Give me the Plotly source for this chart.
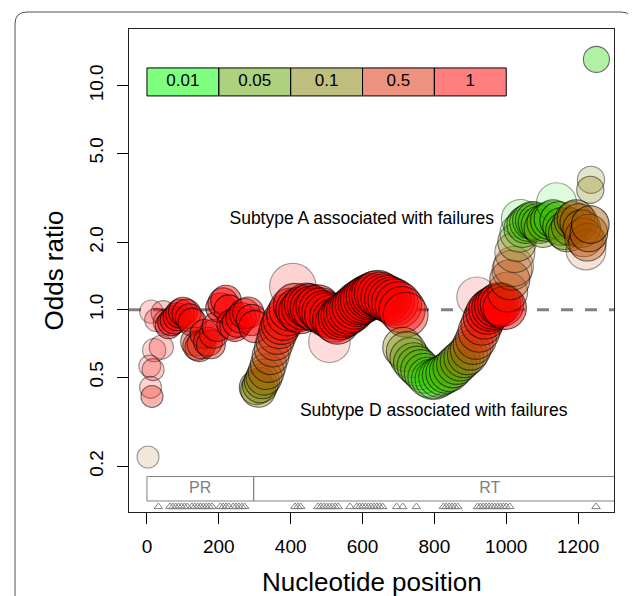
import math
import plotly.graph_objects as go

# ---------------- data ----------------
positions = [3, 8, 10, 14, 17, 20, 12, 26, 40, 45, 52,
             60, 68, 76, 84, 92, 100, 110, 118, 126, 134, 140, 146, 152, 160, 170, 178, 186, 195,
             205, 212, 220, 228, 236, 244, 252, 262, 272, 282, 292, 300,
             305, 310, 315, 320, 326, 332, 338, 344, 350, 356, 362, 368, 374, 380,
             392, 400, 406, 412, 420, 428, 436, 444, 452, 460, 468, 476, 484, 492, 500, 508,
             514, 522, 530, 538, 546, 554, 562, 570, 578, 586, 594, 602, 610, 618, 626, 634,
             642, 650, 660, 670, 680, 690, 700, 710, 720,
             712, 722, 732, 742, 752, 762, 772, 782, 792, 802, 812, 822, 832, 842, 852, 862,
             872, 882, 892, 900, 908, 916, 918, 924, 932, 940, 948, 956, 964, 972, 980, 988, 996,
             1004, 1010, 1016, 1020, 1024, 1030, 1036, 1040, 1046, 1054, 1062, 1070, 1078, 1086,
             1094, 1102, 1110, 1120, 1130, 1140, 1146, 1154, 1162, 1170, 1178, 1186, 1194, 1202,
             1210, 1216, 1222, 1226, 1230, 1234, 1236, 1234, 1251]

odds_ratios = [0.22, 0.56, 0.45, 0.41, 0.54, 0.66, 0.98, 0.90, 0.68, 0.97, 0.88,
               0.85, 0.88, 0.90, 0.93, 0.96, 0.98, 0.96, 0.92, 0.88, 0.72, 0.69, 0.68, 0.70, 0.78, 0.72, 0.70, 0.78, 0.84,
               1.02, 1.07, 1.10, 1.00, 0.86, 0.84, 0.88, 0.92, 0.96, 0.97, 0.90, 0.84,
               0.45, 0.44, 0.46, 0.48, 0.50, 0.53, 0.57, 0.62, 0.67, 0.72, 0.77, 0.82, 0.86, 0.90,
               0.95, 1.00, 1.27, 1.05, 1.00, 0.98, 1.02, 1.05, 1.04, 1.02, 1.00, 1.03, 1.00, 0.97, 0.95, 0.72,
               0.93, 0.90, 0.88, 0.92, 0.94, 0.96, 0.98, 1.00, 1.03, 1.06, 1.08, 1.10, 1.12, 1.14, 1.15, 1.17,
               1.18, 1.16, 1.14, 1.12, 1.10, 1.08, 1.05, 1.00, 0.95,
               0.68, 0.65, 0.61, 0.58, 0.56, 0.54, 0.52, 0.50, 0.49, 0.49, 0.50, 0.51, 0.52, 0.53, 0.55, 0.57,
               0.59, 0.61, 0.63, 0.66, 0.70, 0.74, 1.14, 0.80, 0.86, 0.92, 0.97, 1.00, 1.02, 1.04, 1.06, 1.05, 1.02,
               1.20, 1.36, 1.50, 1.56, 1.80, 2.00, 2.20, 2.55, 2.30, 2.40, 2.45, 2.50, 2.50, 2.45,
               2.40, 2.30, 2.45, 2.50, 2.55, 3.00, 2.50, 2.35, 2.25, 2.20, 2.35, 2.50, 2.55, 2.45,
               2.30, 2.10, 1.85, 2.00, 2.20, 2.40, 3.80, 3.43, 13.1]

p_values = [0.24, 0.9, 0.9, 0.66, 0.9, 0.9, 1.0, 1.0, 0.9, 1.0, 0.95,
            1.0, 1.0, 1.0, 1.0, 1.0, 1.0, 1.0, 1.0, 0.9, 0.6, 0.6, 0.6, 0.6, 0.9, 0.7, 0.7, 0.9, 1.0,
            1.0, 1.0, 1.0, 1.0, 1.0, 1.0, 1.0, 1.0, 1.0, 1.0, 1.0, 1.0,
            0.1, 0.1, 0.1, 0.12, 0.15, 0.2, 0.25, 0.3, 0.4, 0.5, 0.6, 0.7, 0.8, 0.9,
            1.0, 1.0, 0.9, 1.0, 1.0, 1.0, 1.0, 1.0, 1.0, 1.0, 1.0, 1.0, 1.0, 1.0, 1.0, 0.8,
            1.0, 1.0, 1.0, 1.0, 1.0, 1.0, 1.0, 1.0, 1.0, 1.0, 1.0, 1.0, 1.0, 1.0, 1.0, 1.0,
            1.0, 1.0, 1.0, 1.0, 1.0, 1.0, 1.0, 1.0, 0.9,
            0.1, 0.08, 0.06, 0.05, 0.04, 0.035, 0.03, 0.025, 0.02, 0.02, 0.025, 0.03, 0.035, 0.04, 0.05, 0.06,
            0.08, 0.1, 0.13, 0.18, 0.25, 0.35, 0.9, 0.5, 0.7, 0.9, 1.0, 1.0, 1.0, 1.0, 1.0, 1.0, 1.0,
            0.35, 0.3, 0.3, 0.25, 0.2, 0.1, 0.03, 0.015, 0.04, 0.03, 0.03, 0.03, 0.035, 0.04,
            0.04, 0.07, 0.035, 0.03, 0.03, 0.015, 0.035, 0.04, 0.05, 0.07, 0.1, 0.15, 0.2, 0.2,
            0.22, 0.3, 0.4, 0.25, 0.2, 0.2, 0.1, 0.1, 0.02]

n_seqs = [55, 55, 55, 55, 55, 58, 58, 58, 60, 60, 62,
          66, 68, 70, 70, 72, 72, 72, 70, 70, 72, 72, 72, 72, 72, 72, 72, 72, 74,
          74, 76, 76, 74, 74, 74, 76, 76, 76, 78, 78, 80,
          86, 88, 88, 88, 90, 90, 90, 92, 92, 94, 96, 98, 100, 102,
          106, 108, 116, 108, 110, 110, 110, 110, 110, 110, 110, 110, 110, 110, 110, 104,
          110, 110, 110, 110, 110, 112, 112, 112, 112, 112, 112, 114, 114, 114, 114, 116,
          116, 116, 116, 116, 116, 116, 116, 116, 112,
          100, 100, 100, 100, 100, 100, 100, 100, 100, 100, 100, 100, 100, 100, 100, 100,
          100, 100, 100, 100, 100, 102, 100, 104, 104, 106, 108, 108, 108, 108, 108, 108, 108,
          100, 100, 100, 100, 100, 96, 96, 96, 94, 94, 94, 94, 94, 94,
          94, 94, 94, 94, 94, 100, 94, 94, 94, 94, 94, 94, 94, 94,
          94, 96, 100, 94, 94, 94, 68, 68, 65]

weights = [0.2, 0.25, 0.25, 0.45, 0.3, 0.25, 0.25, 0.3, 0.3, 0.3, 0.35,
           0.65, 0.65, 0.65, 0.65, 0.65, 0.65, 0.65, 0.65, 0.65, 0.5, 0.5, 0.5, 0.5, 0.6, 0.6, 0.6, 0.6, 0.65,
           0.65, 0.65, 0.65, 0.65, 0.65, 0.65, 0.6, 0.6, 0.6, 0.6, 0.6, 0.6,
           0.55, 0.55, 0.55, 0.5, 0.5, 0.5, 0.5, 0.5, 0.5, 0.5, 0.5, 0.5, 0.55, 0.6,
           0.6, 0.6, 0.25, 0.65, 0.65, 0.65, 0.65, 0.65, 0.65, 0.65, 0.65, 0.65, 0.65, 0.65, 0.65, 0.2,
           0.65, 0.65, 0.65, 0.65, 0.65, 0.65, 0.65, 0.65, 0.65, 0.65, 0.65, 0.65, 0.65, 0.65, 0.65, 0.65,
           0.6, 0.6, 0.6, 0.6, 0.6, 0.6, 0.6, 0.6, 0.55,
           0.5, 0.5, 0.5, 0.5, 0.5, 0.5, 0.45, 0.35, 0.35, 0.35, 0.4, 0.5, 0.5, 0.5, 0.5, 0.5,
           0.5, 0.5, 0.5, 0.5, 0.5, 0.5, 0.2, 0.55, 0.6, 0.65, 0.7, 0.7, 0.7, 0.7, 0.7, 0.7, 0.7,
           0.35, 0.5, 0.3, 0.3, 0.3, 0.4, 0.3, 0.25, 0.45, 0.5, 0.5, 0.5, 0.5, 0.55,
           0.55, 0.5, 0.55, 0.6, 0.6, 0.2, 0.65, 0.65, 0.6, 0.55, 0.55, 0.55, 0.6, 0.6,
           0.6, 0.4, 0.2, 0.55, 0.6, 0.65, 0.3, 0.4, 0.5]

legend_p = [0.01, 0.05, 0.1, 0.5, 1]
legend_labels = ["0.01", "0.05", "0.1", "0.5", "1"]

mutation_positions = [32, 64, 72, 80, 88, 96, 104, 112, 125, 133, 141, 149, 157, 165, 173, 181,
                      204, 212, 220, 228, 240, 248, 256, 264, 272, 412, 420, 428,
                      476, 484, 492, 500, 508, 516, 524, 532, 565, 584, 592, 600, 608, 616,
                      624, 632, 640, 648, 656, 695, 712, 750, 825, 833, 841, 849, 857, 865,
                      920, 928, 936, 944, 952, 960, 968, 976, 984, 992, 1000, 1010, 1250]

regions = ["PR", "RT"]
region_start = [0, 297]
region_end = [297, 1400]

x_ticks = [0, 200, 400, 600, 800, 1000, 1200]
y_ticks = [0.2, 0.5, 1.0, 2.0, 5.0, 10.0]
y_tick_text = ["0.2", "0.5", "1.0", "2.0", "5.0", "10.0"]

FONT = "Liberation Sans, Arial, Helvetica, sans-serif"


def t_of(p):
    return min(1.0, max(0.0, (math.log10(p) + 2) / 2))


def pcol(p, a):
    t = t_of(p)
    return f"rgba({round(255 * t)},{round(255 * (1 - t))},0,{a})"


fig = go.Figure()

# dashed reference line at OR = 1
fig.add_trace(go.Scatter(x=[-50, 1300], y=[1, 1], mode="lines",
                         line=dict(color="#808080", width=3, dash="12px,12px"),
                         hoverinfo="skip", showlegend=False))

# bubbles
fill_cols = [pcol(p, a) for p, a in zip(p_values, weights)]
line_cols = [f"rgba(0,0,0,{min(1.0, 0.35 + 0.9 * a):.2f})" for a in weights]
fig.add_trace(go.Scatter(
    x=positions, y=odds_ratios, mode="markers",
    marker=dict(size=n_seqs, sizemode="diameter", sizeref=2.5,
                color=fill_cols, line=dict(color=line_cols, width=1.1)),
    showlegend=False, hoverinfo="x+y"))

# p-value colour key
for i, (p, lab) in enumerate(zip(legend_p, legend_labels)):
    x0, x1 = i * 200, (i + 1) * 200
    fig.add_trace(go.Scatter(x=[x0, x1, x1, x0, x0], y=[9, 9, 12, 12, 9], mode="lines",
                             fill="toself", fillcolor=pcol(p, 0.5),
                             line=dict(color="black", width=1),
                             hoverinfo="skip", showlegend=False))
    fig.add_trace(go.Scatter(x=[(x0 + x1) / 2], y=[10.4], mode="text", text=[lab],
                             textfont=dict(size=17, color="black", family=FONT),
                             hoverinfo="skip", showlegend=False))

# gene regions
for name, s, e in zip(regions, region_start, region_end):
    fig.add_trace(go.Scatter(x=[s, e, e, s, s], y=[0.14, 0.14, 0.18, 0.18, 0.14], mode="lines",
                             line=dict(color="#808080", width=1),
                             hoverinfo="skip", showlegend=False))
fig.add_trace(go.Scatter(x=[148, 954], y=[0.158, 0.158], mode="text", text=regions,
                         textfont=dict(size=16, color="#808080", family=FONT),
                         hoverinfo="skip", showlegend=False))

# mutation markers
fig.add_trace(go.Scatter(x=mutation_positions, y=[0.132] * len(mutation_positions), mode="markers",
                         marker=dict(symbol="triangle-up-open", size=7.5, color="#808080",
                                     line=dict(width=1, color="#808080")),
                         hoverinfo="skip", showlegend=False))

# text labels
fig.add_trace(go.Scatter(x=[598, 798], y=[2.52, 0.351], mode="text",
                         text=["Subtype A associated with failures", "Subtype D associated with failures"],
                         textfont=dict(size=17.5, color="black", family=FONT),
                         hoverinfo="skip", showlegend=False))

# The page body keeps the browser's default 8px margin, so the figure is
# 8px smaller than the window and all offsets are relative to (8, 8).
W, H = 628, 588
ml, mr, mt, mb = 121, 22, 21, 84
pw, ph = W - ml - mr, H - mt - mb

# outer rounded frame (paper coordinates)
L = (7 - ml) / pw
R_ = (625 - ml) / pw
T = (ph + mt - 4) / ph
B = -0.25
dx, dy = 12 / pw, 12 / ph
frame = (f"M {L} {B} L {L} {T - dy} Q {L} {T} {L + dx} {T} "
         f"L {R_ - dx} {T} Q {R_} {T} {R_} {T - dy} L {R_} {B}")

fig.update_layout(
    width=W, height=H,
    margin=dict(l=ml, r=mr, t=mt, b=mb, autoexpand=False),
    paper_bgcolor="white", plot_bgcolor="white",
    font=dict(family=FONT, color="black"),
    shapes=[dict(type="path", xref="paper", yref="paper", path=frame,
                 line=dict(color="#555555", width=1))],
    annotations=[
        dict(text="Nucleotide position", xref="paper", yref="paper", x=0.5, y=0,
             xanchor="center", yanchor="middle", yshift=-70, showarrow=False,
             font=dict(size=26, color="black", family=FONT)),
        dict(text="Odds ratio", xref="paper", yref="paper", x=0, y=0.5, textangle=-90,
             xanchor="center", yanchor="middle", xshift=-76, showarrow=False,
             font=dict(size=26, color="black", family=FONT)),
    ],
    xaxis=dict(range=[-50, 1300], tickvals=x_ticks, ticks="outside", ticklen=11,
               tickcolor="black", tickwidth=1, showline=True, linecolor="#222222",
               linewidth=1, mirror=True, showgrid=False, zeroline=False, automargin=False,
               tickfont=dict(size=19), ticklabelstandoff=6),
    yaxis=dict(type="log", range=[-0.903, 1.253], tickvals=y_ticks, ticktext=y_tick_text,
               tickangle=-90, ticks="outside", ticklen=11, tickcolor="black", tickwidth=1,
               showline=True, linecolor="#222222", linewidth=1, mirror=True, automargin=False,
               showgrid=False, zeroline=False, tickfont=dict(size=19), ticklabelstandoff=6),
)

fig.write_html("out.html")
